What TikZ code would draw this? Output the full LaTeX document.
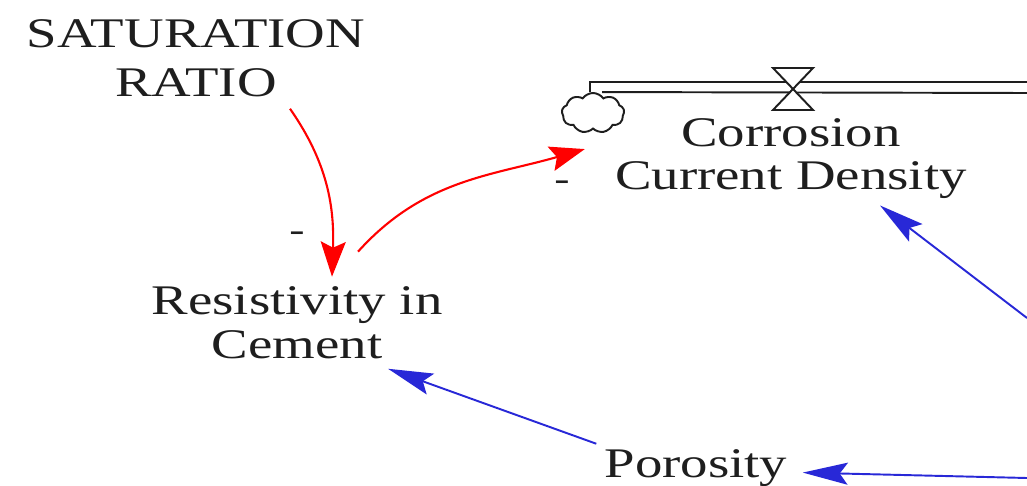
\documentclass[tikz,border=0pt]{standalone}
\usepackage{fontspec}
\setmainfont{Liberation Serif}[FakeStretch=1.3]
\usepackage{tikz}
\usetikzlibrary{arrows.meta,shapes.symbols}
\definecolor{linkblue}{RGB}{40,40,215}
\definecolor{inkgray}{RGB}{30,30,30}
\tikzset{
  varname/.style={align=center, inner sep=0pt, anchor=base, text=inkgray},
  redlink/.style={-{Stealth[length=7mm, width=5mm, inset=1.2mm]}, red, line width=1.2pt},
  bluelink/.style={-{Stealth[length=9mm, width=4.4mm, inset=1.6mm]}, linkblue, line width=1.1pt},
  pipe/.style={line width=1.1pt, inkgray},
  polarity/.style={font=\fontsize{20pt}{20pt}\selectfont, inner sep=0pt, text=inkgray},
  source/.style={cloud, draw, cloud puffs=9, cloud puff arc=110, cloud ignores aspect, line width=1.1pt, inkgray, minimum width=1.25cm, minimum height=0.8cm}
}
\begin{document}
\begin{tikzpicture}[x=0.02cm, y=-0.02cm, every node/.style={font=\fontsize{24pt}{24.5pt}\selectfont}]
      \useasboundingbox (0,0) rectangle (1027,486);
      \node[varname] (sat) at (196,97) {SATURATION\\[3.4pt] RATIO};
      \node[varname] (cor) at (791,190) {Corrosion\\ Current Density};
      \node[varname] (res) at (297,358) {Resistivity in\\ Cement};
      \node[varname] (por) at (696,477) {Porosity};
      \node[source] (src) at (593,113) {};
      \node[polarity] (m1) at (297,237) {-};
      \node[polarity] (m2) at (562,186) {-};
      \coordinate (ptop) at (1027,82);
      \coordinate (pbot) at (1027,93);
      \coordinate (cright) at (1027,318);
      \coordinate (pright) at (1027,478);
      \draw[pipe] (src.north -| 590,0) |- (ptop);
      \draw[pipe] ([xshift=0.18cm]src.north) -- (pbot);
      \draw[pipe, fill=white] (773,68) -- (813,68) -- (773,110) -- (813,110) -- cycle;
      \draw[redlink] ([shift={(94,11)}]sat.south) to[out=-55, in=88] ([shift={(35,-10)}]res.north);
      \draw[redlink] ([shift={(61,-35)}]res.north) to[out=48, in=196] ([shift={(-30,-10)}]cor.west);
      \draw[bluelink] (cright) -- ([shift={(89,6)}]cor.south);
      \draw[bluelink] ([shift={(-8,-5)}]por.north west) -- ([shift={(91,10)}]res.south);
      \draw[bluelink] (pright) -- ([shift={(15,5)}]por.east);
    \end{tikzpicture}
\end{document}
